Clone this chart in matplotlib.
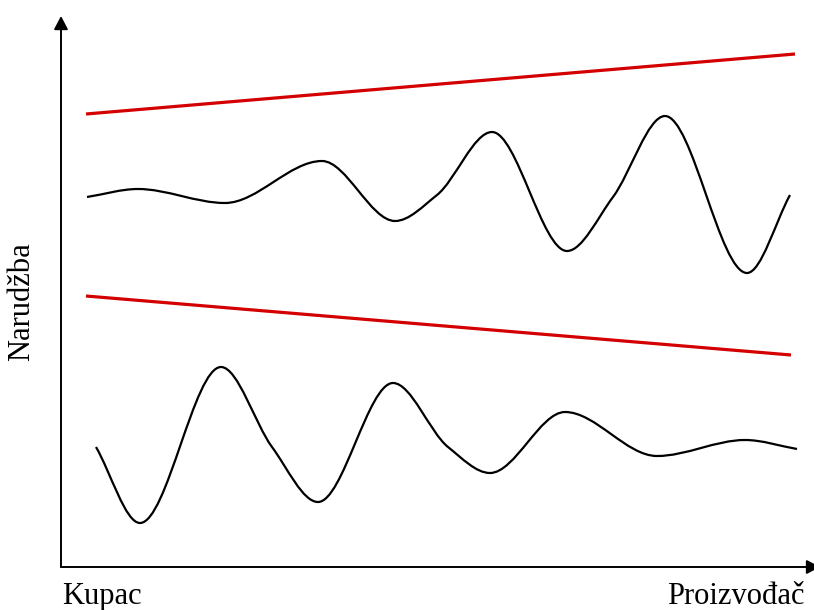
import numpy as np
import matplotlib
matplotlib.use("Agg")
import matplotlib.pyplot as plt
from matplotlib.path import Path
from matplotlib.patches import PathPatch

# Granice (crvene linije): krajnje točke
upper_bound_x = [25, 734]
upper_bound_y = [453, 513]
lower_bound_x = [25, 730]
lower_bound_y = [271, 212]

# Gornja krivulja (narudžbe proizvođača) - vrhovi, dolovi i prijelomi očitani sa slike
upper_x = [26, 77, 164, 261, 334, 376, 431, 506, 552, 604, 686, 729]
upper_y = [370, 378, 364, 406, 346, 372, 435, 316, 370, 451, 294, 372]

# Donja krivulja (narudžbe kupca)
lower_x = [35, 79, 160, 211, 257, 332, 387, 429, 504, 596, 684, 736]
lower_y = [120, 44, 200, 120, 65, 184, 120, 94, 155, 111, 127, 118]

y_label = "Narudžba"
x_left_label = "Kupac"
x_right_label = "Proizvođač"

plt.rcParams["font.family"] = ["Liberation Serif", "DejaVu Serif"]


def smooth_path(xs, ys):
    """Glatka krivulja kroz točke: monotoni kubni Hermite (Fritsch-Carlson) kao Bezier."""
    x = np.asarray(xs, float)
    y = np.asarray(ys, float)
    h = np.diff(x)
    d = np.diff(y) / h
    m = np.zeros_like(y)
    m[0], m[-1] = d[0], d[-1]
    for i in range(1, len(x) - 1):
        if d[i - 1] * d[i] > 0:
            w1 = 2 * h[i] + h[i - 1]
            w2 = h[i] + 2 * h[i - 1]
            m[i] = (w1 + w2) / (w1 / d[i - 1] + w2 / d[i])
    verts = [(x[0], y[0])]
    codes = [Path.MOVETO]
    for i in range(len(x) - 1):
        verts += [(x[i] + h[i] / 3, y[i] + m[i] * h[i] / 3),
                  (x[i + 1] - h[i] / 3, y[i + 1] - m[i + 1] * h[i] / 3),
                  (x[i + 1], y[i + 1])]
        codes += [Path.CURVE4] * 3
    return Path(verts, codes)


fig = plt.figure(figsize=(8.14, 6.10), dpi=100)
ax = fig.add_axes([61 / 814, 43 / 610, 753 / 814, 551 / 610])
ax.set_xlim(0, 753)
ax.set_ylim(0, 551)
ax.axis("off")

arrow = dict(arrowstyle="-|>,head_length=0.8,head_width=0.42",
             color="black", lw=1.4, shrinkA=0, shrinkB=0)
ax.annotate("", xy=(0, 1.0), xytext=(0, 0), xycoords="axes fraction",
            arrowprops=arrow, annotation_clip=False)
ax.annotate("", xy=(1.008, 0), xytext=(0, 0), xycoords="axes fraction",
            arrowprops=arrow, annotation_clip=False)

red = "#d40000"
ax.plot(upper_bound_x, upper_bound_y, color=red, lw=2.3, solid_capstyle="butt")
ax.plot(lower_bound_x, lower_bound_y, color=red, lw=2.3, solid_capstyle="butt")

for xs, ys in [(upper_x, upper_y), (lower_x, lower_y)]:
    ax.add_patch(PathPatch(smooth_path(xs, ys), fill=False, edgecolor="black", lw=1.6))

fig.text(22 / 814, 1 - 302 / 610, y_label, rotation=90, ha="center", va="center",
         fontsize=22)
fig.text(62 / 814, 1 - 604 / 610, x_left_label, ha="left", va="baseline", fontsize=22)
fig.text(805 / 814, 1 - 604 / 610, x_right_label, ha="right", va="baseline", fontsize=22)

fig.savefig("out.png", dpi=100)
